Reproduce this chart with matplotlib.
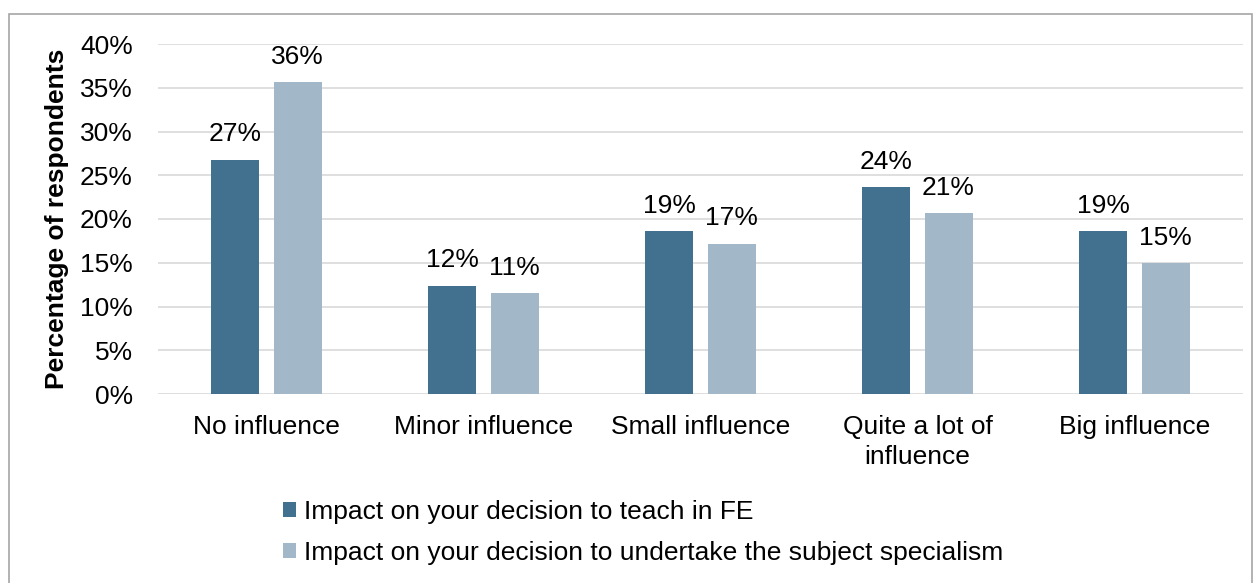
import matplotlib
matplotlib.use('Agg')
from matplotlib import pyplot as plt
from matplotlib.patches import Rectangle
import numpy as np

# Data
categories   = ['No influence', 'Minor influence', 'Small influence', 'Quite a lot of\ninfluence', 'Big influence']
teach_fe     = [26.8, 12.4, 18.6, 23.7, 18.6]
specialism   = [35.7, 11.5, 17.2, 20.7, 15.0]
teach_lbls   = ['27%', '12%', '19%', '24%', '19%']
spec_lbls    = ['36%', '11%', '17%', '21%', '15%']
series_names = ['Impact on your decision to teach in FE',
                'Impact on your decision to undertake the subject specialism']

plt.rcParams['font.family'] = ['Liberation Sans', 'DejaVu Sans']
FS = 19

W, H = 1258, 583
fig = plt.figure(figsize=(W / 100, H / 100), dpi=100)
ax = fig.add_axes([158 / W, (H - 394) / H, (1243 - 158) / W, 350 / H])

x = np.arange(len(categories))
bw = 0.221
off = 0.143
dark, light = '#41718F', '#A2B8C8'
b1 = ax.bar(x - off, teach_fe, bw, color=dark, label=series_names[0], zorder=3)
b2 = ax.bar(x + off, specialism, bw, color=light, label=series_names[1], zorder=3)

for bars, lbls in [(b1, teach_lbls), (b2, spec_lbls)]:
    for r, t in zip(bars, lbls):
        ax.annotate(t, xy=(r.get_x() + r.get_width() / 2, r.get_height()),
                    xytext=(0, 13), textcoords='offset points',
                    ha='center', va='baseline', fontsize=FS)

ax.set_xlim(-0.5, len(categories) - 0.5)
ax.set_ylim(0, 40)
ax.set_yticks(range(0, 41, 5))
ax.set_yticklabels([f'{v}%' for v in range(0, 41, 5)], fontsize=FS)
ax.set_xticks(x)
ax.set_xticklabels(categories, fontsize=FS, linespacing=1.3, va='top')
ax.tick_params(axis='x', length=0, pad=15)
ax.tick_params(axis='y', length=0, pad=18)
ax.grid(axis='y', color='#D9D9D9', linewidth=1.2, zorder=0)
ax.set_axisbelow(True)
for s in ax.spines.values():
    s.set_visible(False)

ax.set_ylabel('Percentage of respondents', fontsize=FS, fontweight='bold', labelpad=8)

fig.legend(handles=[b1, b2], labels=series_names, loc='upper left',
           bbox_to_anchor=(283 / W, 1 - 500 / H), bbox_transform=fig.transFigure,
           frameon=False, fontsize=FS, handlelength=0.5, handleheight=0.5,
           handletextpad=0.3, labelspacing=0.65, borderaxespad=0, borderpad=0)

# outer chart border
fig.patches.append(Rectangle((9 / W, -0.1), (1252 - 9) / W, 1.1 - 14 / H,
                             transform=fig.transFigure, fill=False,
                             edgecolor='#A6A6A6', linewidth=1.2))

fig.savefig('out.png', dpi=100)
